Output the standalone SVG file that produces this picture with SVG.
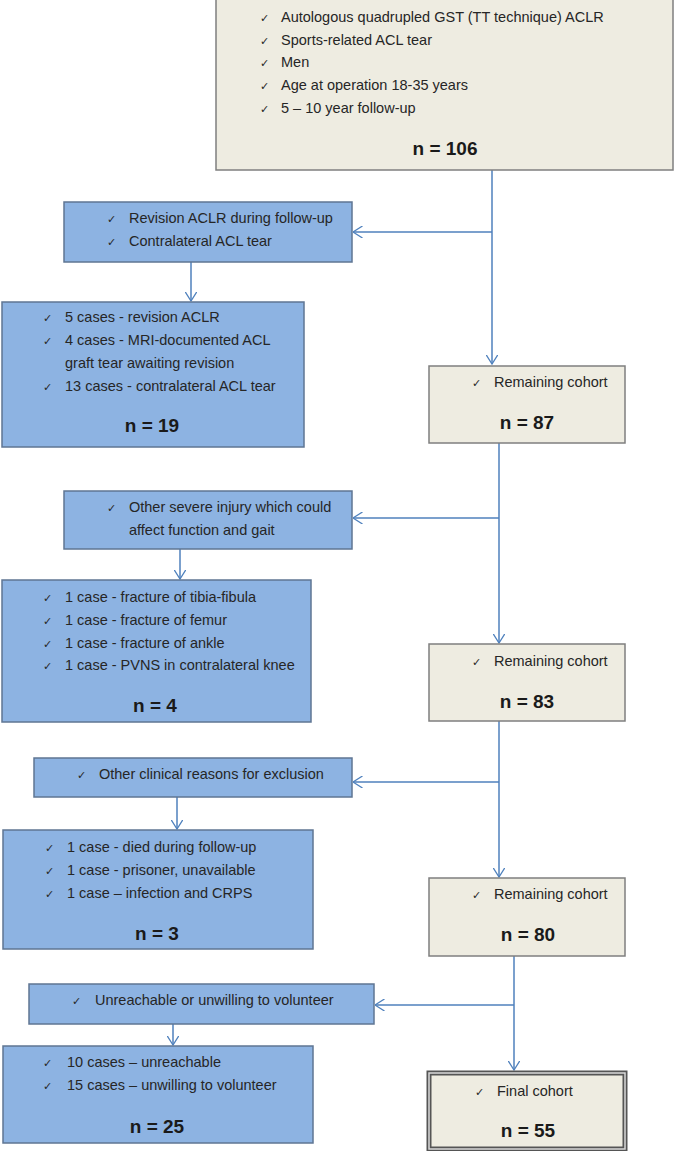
<svg xmlns="http://www.w3.org/2000/svg" width="674" height="1151" viewBox="0 0 674 1151">
<style>
.beige{fill:#eeece1;stroke:#7f7f7f;stroke-width:1.5}
.blue{fill:#8db3e2;stroke:#5f7693;stroke-width:1.5}
.t{font-family:"Liberation Sans",Arial,sans-serif;font-size:14.5px;fill:#262626}
.ck{font-family:"DejaVu Sans",sans-serif;font-size:11px;fill:#262626}
.n{font-family:"Liberation Sans",Arial,sans-serif;font-size:19px;font-weight:bold;fill:#1a1a1a;text-anchor:middle}
.c{fill:none;stroke:#4f81bd;stroke-width:1.5}
</style>
<defs>
<marker id="ah" viewBox="0 0 10 12" refX="9.5" refY="6" markerWidth="10" markerHeight="12" markerUnits="userSpaceOnUse" orient="auto">
<path d="M0,0 L9.5,6 L0,12" fill="none" stroke="#4f81bd" stroke-width="1.3"/>
</marker>
</defs>
<g id="connectors">
<path class="c" d="M492,170 V364" marker-end="url(#ah)"/>
<path class="c" d="M492,232 H353" marker-end="url(#ah)"/>
<path class="c" d="M191,262 V301" marker-end="url(#ah)"/>
<path class="c" d="M499,443 V643" marker-end="url(#ah)"/>
<path class="c" d="M499,518 H353" marker-end="url(#ah)"/>
<path class="c" d="M180,549 V579" marker-end="url(#ah)"/>
<path class="c" d="M499,721 V877" marker-end="url(#ah)"/>
<path class="c" d="M499,782 H353" marker-end="url(#ah)"/>
<path class="c" d="M177,797 V829" marker-end="url(#ah)"/>
<path class="c" d="M514,956 V1070" marker-end="url(#ah)"/>
<path class="c" d="M514,1005 H375" marker-end="url(#ah)"/>
<path class="c" d="M173,1024 V1045" marker-end="url(#ah)"/>
</g>
<g id="node-start">
<rect class="beige" x="216" y="-1" width="457" height="171"/>
<text class="ck" x="260" y="22">✓</text><text class="t" x="281" y="22">Autologous quadrupled GST (TT technique) ACLR</text>
<text class="ck" x="260" y="45">✓</text><text class="t" x="281" y="45">Sports-related ACL tear</text>
<text class="ck" x="260" y="67">✓</text><text class="t" x="281" y="67">Men</text>
<text class="ck" x="260" y="90">✓</text><text class="t" x="281" y="90">Age at operation 18-35 years</text>
<text class="ck" x="260" y="113">✓</text><text class="t" x="281" y="113">5 – 10 year follow-up</text>
<text class="n" x="445" y="155">n = 106</text>
</g>
<g id="node-excl1">
<rect class="blue" x="64" y="202" width="288" height="60"/>
<text class="ck" x="107" y="223">✓</text><text class="t" x="129" y="223">Revision ACLR during follow-up</text>
<text class="ck" x="107" y="246">✓</text><text class="t" x="129" y="246">Contralateral ACL tear</text>
</g>
<g id="node-excl1-detail">
<rect class="blue" x="2" y="302" width="302" height="145"/>
<text class="ck" x="43" y="322">✓</text><text class="t" x="65" y="322">5 cases - revision ACLR</text>
<text class="ck" x="43" y="345">✓</text><text class="t" x="65" y="345">4 cases - MRI-documented ACL</text>
<text class="t" x="65" y="368">graft tear awaiting revision</text>
<text class="ck" x="43" y="391">✓</text><text class="t" x="65" y="391">13 cases - contralateral ACL tear</text>
<text class="n" x="152" y="432">n = 19</text>
</g>
<g id="node-rem87">
<rect class="beige" x="429" y="366" width="196" height="77"/>
<text class="ck" x="472" y="387">✓</text><text class="t" x="494" y="387">Remaining cohort</text>
<text class="n" x="527" y="429">n = 87</text>
</g>
<g id="node-excl2">
<rect class="blue" x="64" y="491" width="288" height="58"/>
<text class="ck" x="107" y="512">✓</text><text class="t" x="129" y="512">Other severe injury which could</text>
<text class="t" x="129" y="535">affect function and gait</text>
</g>
<g id="node-excl2-detail">
<rect class="blue" x="2" y="580" width="309" height="142"/>
<text class="ck" x="43" y="602">✓</text><text class="t" x="65" y="602">1 case - fracture of tibia-fibula</text>
<text class="ck" x="43" y="625">✓</text><text class="t" x="65" y="625">1 case - fracture of femur</text>
<text class="ck" x="43" y="648">✓</text><text class="t" x="65" y="648">1 case - fracture of ankle</text>
<text class="ck" x="43" y="670">✓</text><text class="t" x="65" y="670">1 case - PVNS in contralateral knee</text>
<text class="n" x="155" y="712">n = 4</text>
</g>
<g id="node-rem83">
<rect class="beige" x="429" y="644" width="196" height="77"/>
<text class="ck" x="472" y="666">✓</text><text class="t" x="494" y="666">Remaining cohort</text>
<text class="n" x="527" y="708">n = 83</text>
</g>
<g id="node-excl3">
<rect class="blue" x="34" y="758" width="318" height="39"/>
<text class="ck" x="77" y="779">✓</text><text class="t" x="99" y="779">Other clinical reasons for exclusion</text>
</g>
<g id="node-excl3-detail">
<rect class="blue" x="3" y="830" width="310" height="119"/>
<text class="ck" x="45" y="852">✓</text><text class="t" x="67" y="852">1 case - died during follow-up</text>
<text class="ck" x="45" y="875">✓</text><text class="t" x="67" y="875">1 case - prisoner, unavailable</text>
<text class="ck" x="45" y="898">✓</text><text class="t" x="67" y="898">1 case – infection and CRPS</text>
<text class="n" x="157" y="940">n = 3</text>
</g>
<g id="node-rem80">
<rect class="beige" x="429" y="878" width="196" height="78"/>
<text class="ck" x="472" y="899">✓</text><text class="t" x="494" y="899">Remaining cohort</text>
<text class="n" x="528" y="941">n = 80</text>
</g>
<g id="node-excl4">
<rect class="blue" x="29" y="984" width="345" height="40"/>
<text class="ck" x="72" y="1005">✓</text><text class="t" x="95" y="1005">Unreachable or unwilling to volunteer</text>
</g>
<g id="node-excl4-detail">
<rect class="blue" x="3" y="1046" width="310" height="97"/>
<text class="ck" x="43" y="1067">✓</text><text class="t" x="67" y="1067">10 cases – unreachable</text>
<text class="ck" x="43" y="1090">✓</text><text class="t" x="67" y="1090">15 cases – unwilling to volunteer</text>
<text class="n" x="157" y="1133">n = 25</text>
</g>
<g id="node-final">
<rect x="429" y="1073" width="196" height="76" fill="#eeece1" stroke="#555555" stroke-width="5"/>
<rect x="429" y="1073" width="196" height="76" fill="none" stroke="#d9d9d9" stroke-width="1.5"/>
<text class="ck" x="475" y="1096">✓</text><text class="t" x="497" y="1096">Final cohort</text>
<text class="n" x="528" y="1137">n = 55</text>
</g>
</svg>
